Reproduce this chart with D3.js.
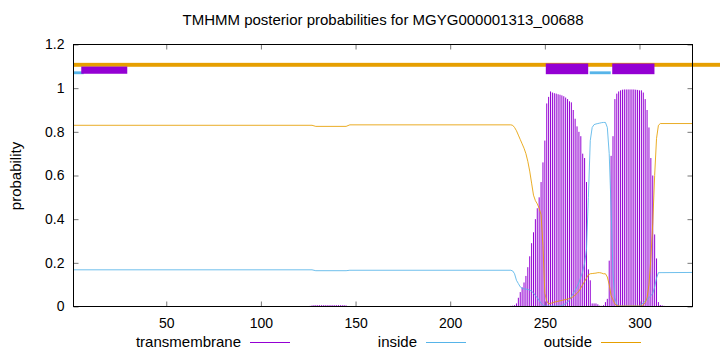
<!DOCTYPE html>
<html><head><meta charset="utf-8">
<script src="https://cdn.jsdelivr.net/npm/d3@7"></script>
<style>
body{margin:0;background:#fff}
svg{display:block}
text{font-family:"Liberation Sans",Arial,Helvetica,sans-serif;fill:#000}
</style>
</head><body>
<svg id="chart" width="720" height="352"></svg>
<script>
// ---------------- data ----------------
const chartTitle = "TMHMM posterior probabilities for MGYG000001313_00688";
const yAxisLabel = "probability";
const seqStart = 1;
const seqLength = 328;
const xTickValues = [50, 100, 150, 200, 250, 300];
const yTickValues = [0, 0.2, 0.4, 0.6, 0.8, 1, 1.2];
const seriesNames = ["transmembrane", "inside", "outside"];

// transmembrane posterior (impulses): [residue, probability]
const tmBars = [
  [126,0.003],[127,0.005],[128,0.006],[129,0.006],[130,0.006],[131,0.006],[132,0.006],[133,0.006],
  [134,0.006],[135,0.006],[136,0.006],[137,0.006],[138,0.006],[139,0.006],[140,0.006],[141,0.006],
  [142,0.006],[143,0.006],[144,0.006],[145,0.005],[146,0.002],
  [181,0.002],[182,0.002],[183,0.002],[184,0.002],[185,0.002],[186,0.002],[187,0.002],[188,0.002],
  [189,0.002],[190,0.002],[191,0.002],[192,0.002],[193,0.002],[194,0.002],[195,0.002],[196,0.002],
  [197,0.002],[198,0.002],[199,0.002],[200,0.002],[201,0.002],[202,0.002],[203,0.002],
  [228,0.001],[229,0.001],[230,0.002],[231,0.002],[232,0.003],[233,0.004],[234,0.006],[235,0.014],
  [236,0.04],[237,0.066],[238,0.088],[239,0.11],[240,0.14],[241,0.18],[242,0.23],[243,0.29],
  [244,0.34],[245,0.40],[246,0.45],[247,0.50],[248,0.57],[249,0.66],[250,0.76],[251,0.93],
  [252,0.96],[253,0.985],[254,0.98],[255,0.977],[256,0.975],[257,0.972],[258,0.97],[259,0.967],
  [260,0.963],[261,0.957],[262,0.95],[263,0.94],[264,0.935],[265,0.9],[266,0.86],[267,0.825],
  [268,0.8],[269,0.78],[270,0.7],[271,0.68],[272,0.57],[273,0.17],[274,0.12],[275,0.014],
  [276,0.014],[277,0.014],[278,0.01],[279,0.004],[280,0.003],[281,0.006],[282,0.02],[283,0.035],
  [284,0.21],[285,0.69],[286,0.78],[287,0.95],[288,0.975],[289,0.985],[290,0.99],[291,0.993],
  [292,0.994],[293,0.994],[294,0.994],[295,0.994],[296,0.994],[297,0.994],[298,0.993],[299,0.992],
  [300,0.99],[301,0.99],[302,0.98],[303,0.95],[304,0.9],[305,0.82],[306,0.68],[307,0.6],
  [308,0.33],[309,0.22],[310,0.02],[311,0.007],[312,0.005],[313,0.003]
];

// inside posterior (line): [residue, probability]
const insideLine = [
  [1,0.168],[127,0.168],[129,0.164],[145,0.164],[147,0.166],[232,0.166],[233,0.163],[234,0.15],
  [235,0.12],[236,0.105],[237,0.09],[238,0.083],[239,0.081],[240,0.08],[241,0.078],[242,0.075],
  [243,0.07],[244,0.062],[245,0.05],[246,0.04],[247,0.028],[248,0.015],[249,0.005],[250,0.002],
  [258,0.002],[259,0.005],[260,0.009],[261,0.013],[262,0.02],[263,0.03],[264,0.045],[265,0.06],
  [266,0.075],[267,0.09],[268,0.11],[269,0.135],[270,0.16],[271,0.2],[272,0.26],[273,0.5],
  [274,0.76],[275,0.82],[276,0.833],[277,0.836],[278,0.838],[279,0.84],[280,0.842],[281,0.843],
  [282,0.843],[283,0.82],[284,0.7],[285,0.45],[286,0.15],[287,0.04],[288,0.01],[289,0.002],
  [300,0.002],[301,0.008],[302,0.018],[303,0.025],[304,0.032],[305,0.04],[306,0.05],[307,0.06],
  [308,0.09],[309,0.13],[310,0.155],[328,0.156]
];

// outside posterior (line): [residue, probability]
const outsideLine = [
  [1,0.83],[127,0.83],[129,0.825],[145,0.825],[147,0.832],[232,0.832],[233,0.83],[234,0.82],
  [235,0.805],[236,0.785],[237,0.765],[238,0.745],[239,0.725],[240,0.7],[241,0.665],[242,0.62],
  [243,0.565],[244,0.51],[245,0.485],[246,0.47],[247,0.45],[248,0.42],[249,0.28],[250,0.06],
  [251,0.025],[252,0.012],[253,0.014],[254,0.017],[255,0.02],[256,0.022],[257,0.024],[258,0.026],
  [259,0.028],[260,0.03],[261,0.032],[262,0.034],[263,0.036],[264,0.04],[265,0.045],[266,0.052],
  [267,0.06],[268,0.07],[269,0.085],[270,0.1],[271,0.115],[272,0.13],[273,0.145],[274,0.15],
  [275,0.151],[276,0.152],[277,0.153],[278,0.155],[279,0.155],[280,0.153],[281,0.15],[282,0.15],
  [283,0.135],[284,0.1],[285,0.05],[286,0.03],[287,0.012],[288,0.005],[289,0.002],[301,0.002],
  [302,0.008],[303,0.018],[304,0.04],[305,0.1],[306,0.22],[307,0.38],[308,0.6],[309,0.77],
  [310,0.83],[311,0.838],[328,0.838]
];

// predicted topology bands drawn above the curves: [type, from residue, to residue]
const topology = [
  ["outside", 1, 343],
  ["inside", 1, 6.4],
  ["inside", 273.7, 284.8],
  ["tm-first", 5.1, 29.4],
  ["tm", 250.5, 272.9],
  ["tm", 285.6, 307.9]
];

// ---------------- styling ----------------
const W = 720, H = 352;
const plot = {left: 73.5, right: 692.5, top: 44.5, bottom: 306.5};
const colors = {transmembrane: "#9400d3", inside: "#56b4e9", outside: "#e69f00"};
const fontSize = 15;
const tickFontSize = 14;
const bandStyle = {
  "outside":  {color: "#e69f00", y0: 1.116, y1: 1.098},
  "inside":   {color: "#56b4e9", y0: 1.077, y1: 1.064},
  "tm-first": {color: "#9400d3", y0: 1.099, y1: 1.066},
  "tm":       {color: "#9400d3", y0: 1.113, y1: 1.064}
};

const svg = d3.select("#chart");
svg.append("rect").attr("width", W).attr("height", H).attr("fill", "#fff");

const x = d3.scaleLinear().domain([seqStart, seqLength]).range([plot.left, plot.right]);
const y = d3.scaleLinear().domain([0, 1.2]).range([plot.bottom, plot.top]);

// axes (ticks inward, mirrored)
const tickLen = 5;
const axisStyle = g => {
  g.select(".domain").remove();
  g.selectAll(".tick line").attr("stroke", "#777").attr("stroke-width", 1);
  g.selectAll(".tick text").attr("font-size", tickFontSize).attr("fill", "#000")
    .attr("font-family", '"Liberation Sans",Arial,sans-serif');
};
svg.append("g").attr("transform", `translate(0,${plot.bottom})`)
  .call(d3.axisBottom(x).tickValues(xTickValues).tickSize(-tickLen).tickPadding(12).tickFormat(d3.format("d")))
  .call(axisStyle);
svg.append("g").attr("transform", `translate(0,${plot.top})`)
  .call(d3.axisTop(x).tickValues(xTickValues).tickSize(-tickLen).tickFormat(""))
  .call(axisStyle);
svg.append("g").attr("transform", `translate(${plot.left},0)`)
  .call(d3.axisLeft(y).tickValues(yTickValues).tickSize(-tickLen).tickPadding(9).tickFormat(d => String(+d.toFixed(1))))
  .call(axisStyle);
svg.append("g").attr("transform", `translate(${plot.right},0)`)
  .call(d3.axisRight(y).tickValues(yTickValues).tickSize(-tickLen).tickFormat(""))
  .call(axisStyle);

// transmembrane impulses
svg.append("g").selectAll("line").data(tmBars).join("line")
  .attr("x1", d => x(d[0])).attr("x2", d => x(d[0]))
  .attr("y1", y(0)).attr("y2", d => y(d[1]))
  .attr("stroke", colors.transmembrane).attr("stroke-width", 1);

// inside / outside lines
const line = d3.line().x(d => x(d[0])).y(d => y(d[1]));
svg.append("path").datum(insideLine).attr("d", line)
  .attr("fill", "none").attr("stroke", colors.inside).attr("stroke-width", 1).attr("stroke-opacity", 0.85);
svg.append("path").datum(outsideLine).attr("d", line)
  .attr("fill", "none").attr("stroke", colors.outside).attr("stroke-width", 1).attr("stroke-opacity", 0.85);

// topology bands
svg.append("g").selectAll("rect").data(topology).join("rect")
  .attr("x", d => x(d[1])).attr("width", d => x(d[2]) - x(d[1]))
  .attr("y", d => y(bandStyle[d[0]].y0))
  .attr("height", d => y(bandStyle[d[0]].y1) - y(bandStyle[d[0]].y0))
  .attr("fill", d => bandStyle[d[0]].color);

// frame
svg.append("rect").attr("x", plot.left).attr("y", plot.top)
  .attr("width", plot.right - plot.left).attr("height", plot.bottom - plot.top)
  .attr("fill", "none").attr("stroke", "#000").attr("stroke-width", 1);

// title
svg.append("text").attr("x", (plot.left + plot.right) / 2).attr("y", 25)
  .attr("text-anchor", "middle").attr("font-size", fontSize).text(chartTitle);

// y label
svg.append("text").attr("transform", `translate(21,176) rotate(-90)`)
  .attr("text-anchor", "middle").attr("font-size", fontSize).text(yAxisLabel);

// legend
const legendTextRight = [241, 417, 592];
const legendY = 342;
const lg = svg.append("g").selectAll("g").data(seriesNames).join("g");
lg.append("text").attr("x", (d, i) => legendTextRight[i]).attr("y", legendY + 5)
  .attr("text-anchor", "end").attr("font-size", fontSize).text(d => d);
lg.append("line").attr("x1", (d, i) => legendTextRight[i] + 9).attr("x2", (d, i) => legendTextRight[i] + 49)
  .attr("y1", legendY + 0.5).attr("y2", legendY + 0.5)
  .attr("stroke", d => colors[d]).attr("stroke-width", 1);
</script>
</body></html>
